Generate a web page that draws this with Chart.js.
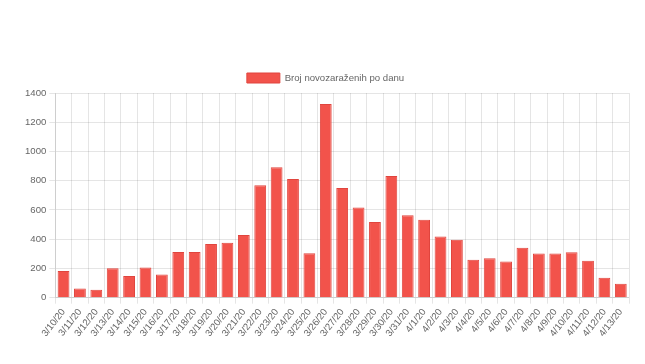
<!DOCTYPE html>
<html>
<head>
<meta charset="utf-8">
<script src="https://cdn.jsdelivr.net/npm/chart.js@4/dist/chart.umd.min.js"></script>
<style>
html,body{margin:0;padding:0;background:#fff;}
#wrap{width:645px;height:364px;position:relative;}
</style>
</head>
<body>
<div id="wrap"><canvas id="c"></canvas></div>
<script>
const categories = ["3/10/20","3/11/20","3/12/20","3/13/20","3/14/20","3/15/20","3/16/20","3/17/20","3/18/20","3/19/20","3/20/20","3/21/20","3/22/20","3/23/20","3/24/20","3/25/20","3/26/20","3/27/20","3/28/20","3/29/20","3/30/20","3/31/20","4/1/20","4/2/20","4/3/20","4/4/20","4/5/20","4/6/20","4/7/20","4/8/20","4/9/20","4/10/20","4/11/20","4/12/20","4/13/20"];
const newCases = [183,62,55,201,149,206,158,313,313,368,375,428,769,892,812,304,1325,751,616,517,833,563,533,419,396,259,270,247,341,302,302,311,252,137,96];
const seriesLabel = "Broj novozaraženih po danu";
const yTicks = [0,200,400,600,800,1000,1200,1400];

Chart.defaults.font.family = "'Liberation Sans', Arial, Helvetica, sans-serif";
Chart.defaults.font.size = 9.6;
Chart.defaults.color = "#666";

new Chart(document.getElementById('c'), {
  type: 'bar',
  data: {
    labels: categories,
    datasets: [{
      label: seriesLabel,
      data: newCases,
      backgroundColor: '#f2534b',
      borderColor: '#e0453e',
      borderWidth: 1
    }]
  },
  options: {
    responsive: true,
    maintainAspectRatio: false,
    animation: false,
    layout: { padding: { top: 65, right: 16, bottom: 22, left: 22 } },
    plugins: {
      legend: {
        display: true,
        labels: { boxWidth: 33, boxHeight: 10, padding: 8, color: '#666', font: { size: 9.6 } }
      },
      tooltip: { enabled: false }
    },
    scales: {
      x: {
        grid: { color: 'rgba(0,0,0,0.1)', offset: true, tickLength: 6 },
        ticks: { autoSkip: false, minRotation: 52, maxRotation: 52, font: { size: 9.6 } }
      },
      y: {
        min: 0, max: 1400,
        afterBuildTicks: (ax) => { ax.ticks = yTicks.map(v => ({ value: v })); },
        grid: { color: 'rgba(0,0,0,0.1)', tickLength: 6 },
        ticks: { font: { size: 9.6 }, callback: (v) => String(v) }
      }
    }
  }
});
</script>
</body>
</html>
